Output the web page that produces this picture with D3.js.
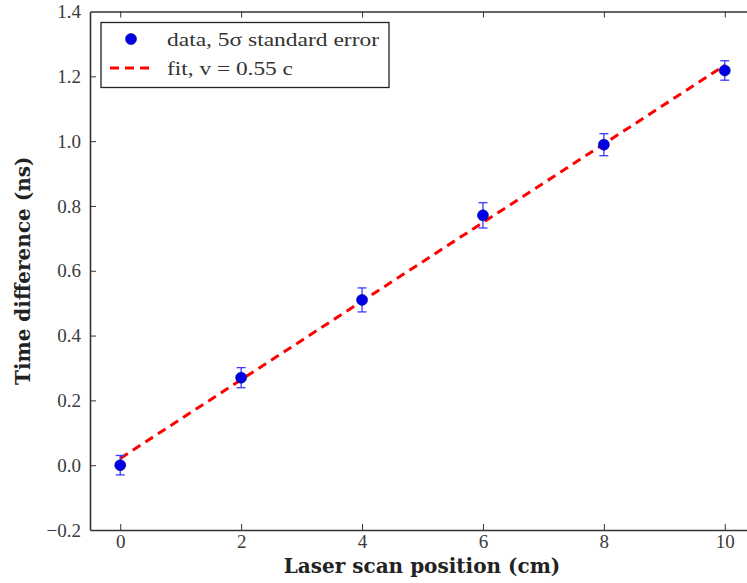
<!DOCTYPE html>
<html><head><meta charset="utf-8">
<script src="https://cdn.jsdelivr.net/npm/d3@7"></script>
<style>body{margin:0;background:#fff}svg{display:block}</style>
</head><body>
<script>
const positions = [0, 2, 4, 6, 8, 10];
const timeDiffs = [0.0, 0.27, 0.51, 0.771, 0.989, 1.218];
const errors5s = [0.03, 0.031, 0.037, 0.039, 0.034, 0.03];
const fitX = [0, 10];
const fitIntercept = 0.021;
const fitSlope = 0.1213;
const xTicks = [0, 2, 4, 6, 8, 10];
const yTicks = [-0.2, 0.0, 0.2, 0.4, 0.6, 0.8, 1.0, 1.2, 1.4];
const legendLabels = ["data, 5\u03c3 standard error", "fit, v = 0.55 c"];

const W = 747, H = 583;
const svg = d3.select("body").append("svg").attr("width", W).attr("height", H);
const x = d3.scaleLinear().domain([-0.5, 10.5]).range([90, 755]);
const y = d3.scaleLinear().domain([-0.2, 1.4]).range([530, 11.5]);
const font = "'DejaVu Serif', 'Liberation Serif', serif";
const tickFont = "'Liberation Serif', serif";

// fit line
const fitData = fitX.map(v => [v, fitIntercept + fitSlope * v]);
svg.append("path")
  .attr("d", d3.line().x(d => x(d[0])).y(d => y(d[1]))(fitData))
  .attr("stroke", "#ff0000").attr("stroke-width", 3)
  .attr("stroke-dasharray", "9,6").attr("fill", "none");

// error bars
const pts = positions.map((p, i) => ({x: p, y: timeDiffs[i], e: errors5s[i]}));
const eb = svg.append("g").attr("stroke", "#3a3aff").attr("stroke-width", 1.3);
pts.forEach(d => {
  eb.append("line").attr("x1", x(d.x)).attr("x2", x(d.x)).attr("y1", y(d.y - d.e)).attr("y2", y(d.y + d.e));
  [d.y - d.e, d.y + d.e].forEach(v =>
    eb.append("line").attr("x1", x(d.x) - 4.5).attr("x2", x(d.x) + 4.5).attr("y1", y(v)).attr("y2", y(v)));
});
svg.append("g").selectAll("circle").data(pts).join("circle")
  .attr("cx", d => x(d.x)).attr("cy", d => y(d.y)).attr("r", 5.5)
  .attr("fill", "#0000e6").attr("stroke", "#00008a").attr("stroke-width", 0.6);

// axes
const tickLen = 6;
const gx = svg.append("g").attr("transform", `translate(0,${y(-0.2)})`)
  .call(d3.axisBottom(x).tickValues(xTicks).tickSizeInner(-tickLen).tickSizeOuter(0).tickPadding(5).tickFormat(d3.format("d")));
const gxTop = svg.append("g").attr("transform", `translate(0,${y(1.4)})`)
  .call(d3.axisTop(x).tickValues(xTicks).tickSizeInner(-tickLen).tickSizeOuter(0).tickFormat(""));
const fmtY = d => (d < 0 ? "\u2212" : "") + Math.abs(d).toFixed(1);
const gy = svg.append("g").attr("transform", `translate(${x(-0.5)},0)`)
  .call(d3.axisLeft(y).tickValues(yTicks).tickSizeInner(-tickLen).tickSizeOuter(0).tickPadding(9).tickFormat(fmtY));
[gx, gxTop, gy].forEach(g => {
  g.select(".domain").attr("stroke", "#333").attr("stroke-width", 1.6);
  g.selectAll(".tick line").attr("stroke", "#333").attr("stroke-width", 1);
  g.selectAll("text").attr("font-family", tickFont).attr("font-size", 19).attr("fill", "#3a3a3a");
});
gy.selectAll(".tick").filter(d => d === -0.2 || d === 1.4).select("line").remove();

// labels
svg.append("text").attr("x", 422).attr("y", 573).attr("text-anchor", "middle")
  .attr("font-family", font).attr("font-weight", "bold").attr("font-size", 20).attr("fill", "#222")
  .text("Laser scan position (cm)");
svg.append("text").attr("transform", `translate(30,${(11.5 + 530) / 2}) rotate(-90)`).attr("text-anchor", "middle")
  .attr("font-family", font).attr("font-weight", "bold").attr("font-size", 20).attr("fill", "#222")
  .text("Time difference (ns)");

// legend
const lg = svg.append("g");
lg.append("rect").attr("x", 101).attr("y", 22.5).attr("width", 288).attr("height", 65)
  .attr("fill", "#fff").attr("stroke", "#222").attr("stroke-width", 1.3);
lg.append("circle").attr("cx", 131).attr("cy", 39).attr("r", 5.5).attr("fill", "#0000e6").attr("stroke", "#00008a").attr("stroke-width", 0.6);
lg.append("line").attr("x1", 110).attr("x2", 152).attr("y1", 68).attr("y2", 68)
  .attr("stroke", "#ff0000").attr("stroke-width", 3).attr("stroke-dasharray", "9,6");
const legendWidths = [212, 126];
legendLabels.forEach((t, i) => {
  lg.append("text").attr("x", 167).attr("y", 39 + i * 29).attr("dy", "0.35em")
    .attr("font-family", tickFont).attr("font-size", 19).attr("fill", "#333")
    .attr("textLength", legendWidths[i]).attr("lengthAdjust", "spacingAndGlyphs").text(t);
});
</script>
</body></html>
